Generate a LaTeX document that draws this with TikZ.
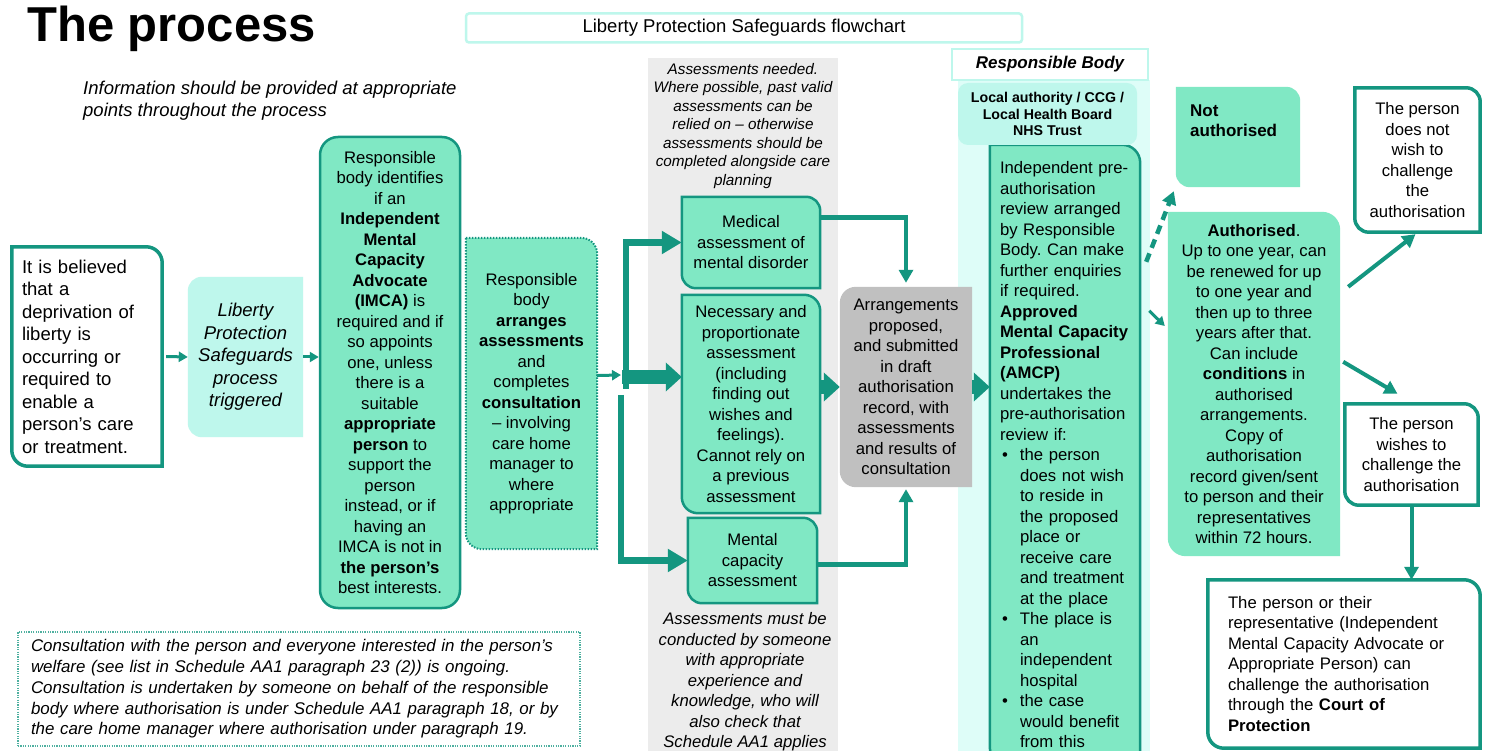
\documentclass[tikz,border=0pt]{standalone}
\usepackage{fontspec}
\setmainfont{Liberation Sans}
\usetikzlibrary{arrows.meta,calc}

\definecolor{lpsteal}{RGB}{20,150,128}
\definecolor{lpsmint}{RGB}{128,232,196}
\definecolor{lpscyan}{RGB}{190,247,236}
\definecolor{lpspale}{RGB}{222,253,248}
\definecolor{lpsgrey}{RGB}{236,236,236}
\definecolor{lpsplan}{RGB}{192,192,192}

\pgfdeclarelayer{bg}
\pgfdeclarelayer{boxes}
\pgfsetlayers{bg,boxes,main}

\hyphenpenalty=10000
\exhyphenpenalty=10000
\frenchspacing

% box with rounded top right and bottom left corners
\newcommand\leafbox[3]{%
  \path[#1] let \p1=(#2.north west), \p2=(#2.south east) in
    (\x1,\y1) -- (\x2-#3,\y1) arc[start angle=90,end angle=0,radius=#3]
    -- (\x2,\y2) -- (\x1+#3,\y2) arc[start angle=270,end angle=180,radius=#3] -- cycle;}
% box with rounded left corners
\newcommand\halfround[3]{%
  \path[#1] let \p1=(#2.north west), \p2=(#2.south east) in
    (\x1,\y1-#3) arc[start angle=180,end angle=90,radius=#3] -- (\x2,\y1)
    -- (\x2,\y2) -- (\x1+#3,\y2) arc[start angle=270,end angle=180,radius=#3] -- cycle;}
\newcommand\bul{\makebox[20pt][l]{\hspace{2pt}•}}
\newcommand\ind{\hspace*{20pt}}

\tikzset{
  boxtext/.style={font=\fontsize{16.7}{20.5}\selectfont, align=center, inner sep=0pt},
  bigtext/.style={font=\fontsize{18.5}{22.5}\selectfont, align=center, inner sep=0pt},
  mintbox/.style={fill=lpsmint, draw=lpsteal, line width=2.5pt},
  whitebox/.style={fill=white, draw=lpsteal, line width=3.5pt},
  flow/.style={draw=lpsteal, line width=4.5pt, -{Triangle[length=13pt,width=14pt]}},
  smallflow/.style={draw=lpsteal, line width=3pt, -{Triangle[length=9pt,width=10pt]}},
  forkflow/.style={draw=lpsteal, line width=6.5pt, -{Triangle[length=20pt,width=22pt]}},
  fatflow/.style={draw=lpsteal, line width=14pt, -{Triangle[length=16pt,width=28pt]}},
}

\begin{document}
\begin{tikzpicture}[x=1pt,y=-1pt]
\useasboundingbox (0,0) rectangle (1492,751);

% title and notes
\node[anchor=base west, inner sep=0pt, font=\fontsize{49}{55}\selectfont\bfseries] (title) at (27,42) {The process};
\node[draw=lpscyan, line width=2.5pt, rounded corners=3pt, fill=white, minimum width=556pt, minimum height=29pt,
      inner sep=0pt, font=\fontsize{18.5}{22}\selectfont] (flowhead) at (744,28) {Liberty Protection Safeguards flowchart};
\node[anchor=north west, align=left, inner sep=0pt, font=\fontsize{18.5}{22}\selectfont\itshape] (info) at (83,81)
  {Information should be provided at appropriate\\points throughout the process};

% left part
\node[bigtext, align=left, text width=130pt, inner xsep=10pt, minimum height=219pt] (believed) at (87,356.5)
  {It is believed\\that a\\deprivation of\\liberty is\\occurring or\\required to\\enable a\\person's care\\or treatment.};
\node[bigtext, font=\fontsize{18.5}{22.5}\selectfont\itshape, minimum width=115pt, minimum height=160pt] (trigger) at (245.5,357)
  {Liberty\\Protection\\Safeguards\\process\\triggered};
\node[boxtext, mintbox, rounded corners=18pt, minimum width=140pt, minimum height=471pt] (imca) at (390,372.5)
  {Responsible\\body identifies\\if an\\\textbf{Independent}\\\textbf{Mental}\\\textbf{Capacity}\\\textbf{Advocate}\\\textbf{(IMCA)} is\\required and if\\so appoints\\one, unless\\there is a\\suitable\\\textbf{appropriate}\\\textbf{person} to\\support the\\person\\instead, or if\\having an\\IMCA is not in\\\textbf{the person's}\\best interests.};
\node[boxtext, minimum width=131pt, minimum height=311pt] (arrange) at (531.5,393.5)
  {Responsible\\body\\\textbf{arranges}\\\textbf{assessments}\\and\\completes\\\textbf{consultation}\\-- involving\\care home\\manager to\\where\\appropriate};
\node[font=\fontsize{16.9}{20.75}\selectfont\itshape, align=left, text width=536pt, inner xsep=13pt, inner ysep=0pt,
      minimum height=114pt, fill=white, draw=lpsteal!75, line width=1.2pt, dash pattern=on 1.2pt off 1.2pt] (ongoing) at (299,689)
  {Consultation with the person and everyone interested in the person's\\welfare (see list in Schedule AA1 paragraph 23 (2)) is ongoing.\\Consultation is undertaken by someone on behalf of the responsible\\body where authorisation is under Schedule AA1 paragraph 18, or by\\the care home manager where authorisation under paragraph 19.};

% assessments column
\node[font=\fontsize{15.3}{18.5}\selectfont\itshape, align=center, inner sep=0pt] (needed) at (743,126)
  {Assessments needed.\\Where possible, past valid\\assessments can be\\relied on -- otherwise\\assessments should be\\completed alongside care\\planning};
\node[boxtext, minimum width=138pt, minimum height=91pt] (medical) at (751,242.5)
  {Medical\\assessment of\\mental disorder};
\node[boxtext, minimum width=138pt, minimum height=218pt] (necessary) at (751,404)
  {Necessary and\\proportionate\\assessment\\(including\\finding out\\wishes and\\feelings).\\Cannot rely on\\a previous\\assessment};
\node[boxtext, minimum width=129pt, minimum height=85pt] (capacity) at (752.5,560.5)
  {Mental\\capacity\\assessment};
\node[font=\fontsize{16.7}{20.5}\selectfont\itshape, align=center, inner sep=0pt] (mustbe) at (745,682)
  {Assessments must be\\conducted by someone\\with appropriate\\experience and\\knowledge, who will\\also check that\\Schedule AA1 applies};
\node[boxtext, minimum width=132pt, minimum height=200pt] (plan) at (906,387)
  {Arrangements\\proposed,\\and submitted\\in draft\\authorisation\\record, with\\assessments\\and results of\\consultation};

% responsible body column
\node[fill=white, draw=lpscyan, line width=1.5pt, minimum width=196pt, minimum height=31pt, inner sep=0pt,
      font=\fontsize{17}{20}\selectfont\bfseries\itshape] (rbhead) at (1050,64.5) {Responsible Body};
\node[fill=lpscyan, rounded corners=10pt, minimum width=179pt, minimum height=62pt, inner sep=0pt, align=center,
      font=\fontsize{14.2}{16.5}\selectfont\bfseries] (rbody) at (1047.5,114) {Local authority / CCG /\\Local Health Board\\NHS Trust};
\node[boxtext, align=left, text width=130pt, inner xsep=10pt, minimum height=620pt] (amcp) at (1065,455)
  {Independent pre-\\authorisation\\review arranged\\by Responsible\\Body. Can make\\further enquiries\\if required.\\\textbf{Approved}\\\textbf{Mental Capacity}\\\textbf{Professional}\\\textbf{(AMCP)}\\undertakes the\\pre-authorisation\\review if:\\\bul the person\\\ind does not wish\\\ind to reside in\\\ind the proposed\\\ind place or\\\ind receive care\\\ind and treatment\\\ind at the place\\\bul The place is\\\ind an\\\ind independent\\\ind hospital\\\bul the case\\\ind would benefit\\\ind from this};

% outcomes
\node[inner sep=0pt, minimum width=124pt, minimum height=100pt] (notauth) at (1238,137) {};
\node[anchor=north west, align=left, inner sep=0pt, font=\fontsize{17}{20}\selectfont\bfseries] (notlbl) at (1190,105) {Not\\authorised};
\node[boxtext, minimum width=172pt, minimum height=344pt] (auth) at (1254,384)
  {\textbf{Authorised}.\\Up to one year, can\\be renewed for up\\to one year and\\then up to three\\years after that.\\Can include\\\textbf{conditions} in\\authorised\\arrangements.\\Copy of\\authorisation\\record given/sent\\to person and their\\representatives\\within 72 hours.};
\node[boxtext, minimum width=125pt, minimum height=144pt] (nowish) at (1417.5,160)
  {The person\\does not\\wish to\\challenge\\the\\authorisation};
\node[boxtext, minimum width=133pt, minimum height=101pt] (wish) at (1411.5,454.5)
  {The person\\wishes to\\challenge the\\authorisation};
\node[boxtext, align=left, text width=232pt, inner xsep=20pt, minimum height=168pt] (court) at (1344,664)
  {The person or their\\representative (Independent\\Mental Capacity Advocate or\\Appropriate Person) can\\challenge the authorisation\\through the \textbf{Court of}\\\textbf{Protection}};

\coordinate (forkIn) at (621,375);
\coordinate (forkA) at (626,389);
\coordinate (forkM) at (622,377);
\coordinate (forkB) at (621,395);

\begin{pgfonlayer}{bg}
  \fill[white] (0,0) rectangle (1492,751);
  \fill[lpsgrey] (648,58) rectangle (838,760);
  \fill[lpspale] (958,80) rectangle (1150,760);
\end{pgfonlayer}

\begin{pgfonlayer}{boxes}
  \leafbox{whitebox}{believed}{16pt}
  \halfround{fill=lpscyan}{trigger}{14pt}
  \leafbox{mintbox, line width=2pt, dash pattern=on 1.5pt off 1.5pt}{arrange}{16pt}
  \leafbox{mintbox}{medical}{14pt}
  \leafbox{mintbox}{necessary}{16pt}
  \leafbox{mintbox}{capacity}{14pt}
  \halfround{fill=lpsplan}{plan}{16pt}
  \leafbox{mintbox}{amcp}{18pt}
  \leafbox{fill=lpsmint}{notauth}{14pt}
  \leafbox{fill=lpsmint}{auth}{18pt}
  \leafbox{whitebox}{nowish}{14pt}
  \leafbox{whitebox}{wish}{14pt}
  \leafbox{whitebox}{court}{16pt}
\end{pgfonlayer}

% connectors
\draw[smallflow] ([xshift=4pt]believed.east) -- (trigger.west);
\draw[smallflow] (trigger.east) -- (trigger.east -| imca.west);
\draw[smallflow] ([yshift=18pt]arrange.east) -- (forkIn);
\draw[forkflow] (forkA) |- (medical.west);
\draw[fatflow] (forkM) -- (forkM -| necessary.west);
\draw[forkflow] (forkB) |- (capacity.west);
\draw[flow] ([yshift=25pt]medical.east) -| ([yshift=4pt]plan.north);
\draw[flow] ([yshift=-4pt]capacity.east) -| ([yshift=-2pt]plan.south);
\draw[fatflow] (necessary.east |- plan.west) -- (plan.west);
\draw[fatflow] (plan.east) -- (plan.east -| amcp.west);
\draw[flow, dash pattern=on 9pt off 6pt] ([xshift=6pt,yshift=-117pt]amcp.north east) -- ([xshift=-2pt,yshift=-4pt]notauth.south west);
\draw[smallflow] ([xshift=9pt,yshift=-166pt]amcp.north east) -- ([xshift=-3pt,yshift=58pt]auth.west);
\draw[flow, line width=4pt] ([xshift=8pt,yshift=-75pt]auth.north east) -- ([xshift=-2pt,yshift=-2pt]nowish.south);
\draw[flow, line width=4pt] ([xshift=3pt,yshift=-150pt]auth.north east) -- ([xshift=-14pt,yshift=10pt]wish.north);
\draw[flow, line width=4pt] (wish.south) -- (wish.south |- court.north);
\end{tikzpicture}
\end{document}
